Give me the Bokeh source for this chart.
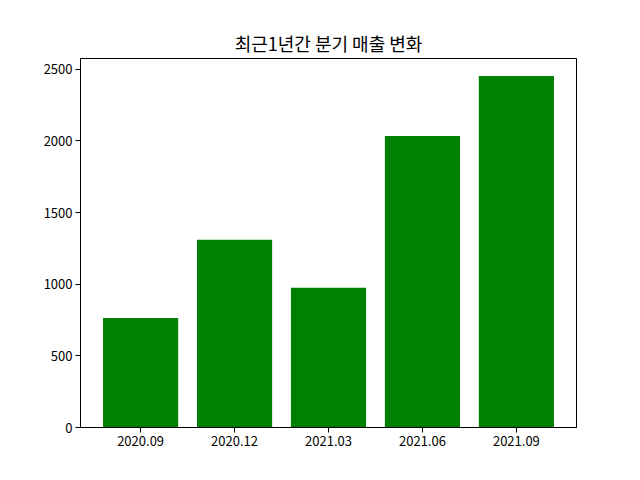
from bokeh.plotting import figure
from bokeh.models import Range1d, FixedTicker
from bokeh.embed import file_html
from bokeh.resources import INLINE

categories = ["2020.09", "2020.12", "2021.03", "2021.06", "2021.09"]
sales = [764, 1310, 976, 2035, 2453]
y_ticks = [0, 500, 1000, 1500, 2000, 2500]

xs = list(range(len(categories)))

p = figure(width=624, height=464, output_backend="svg", toolbar_location=None,
           x_range=Range1d(-0.64, len(categories) - 1 + 0.64),
           y_range=Range1d(0, max(sales) * 1.05),
           title="최근1년간 분기 매출 변화")
p.min_border_left = 80
p.min_border_right = 48
p.min_border_top = 58
p.min_border_bottom = 37

p.vbar(x=xs, top=sales, width=0.8, bottom=0, color="#008000", line_color=None)

FONT = "Noto Sans CJK KR"
p.title.align = "center"
p.title.text_font = FONT
p.title.text_font_size = "18px"
p.title.text_font_style = "normal"
p.title.text_color = "black"
p.title.standoff = 6

p.xgrid.visible = False
p.ygrid.visible = False
p.outline_line_color = "black"
p.outline_line_width = 1
p.outline_line_alpha = 1
p.background_fill_color = "white"
p.border_fill_color = "white"

p.xaxis.ticker = FixedTicker(ticks=xs)
p.xaxis.major_label_overrides = {i: c for i, c in enumerate(categories)}
p.yaxis.ticker = FixedTicker(ticks=y_ticks)

for ax in (p.xaxis, p.yaxis):
    ax.major_label_text_font = FONT
    ax.major_label_text_font_size = "13px"
    ax.major_label_text_color = "black"
    ax.axis_line_color = "black"
    ax.major_tick_line_color = "black"
    ax.major_tick_out = 5
    ax.major_tick_in = 0
    ax.minor_tick_line_color = None
    ax.major_label_standoff = 3

open("out.html", "w").write(file_html(p, INLINE))
